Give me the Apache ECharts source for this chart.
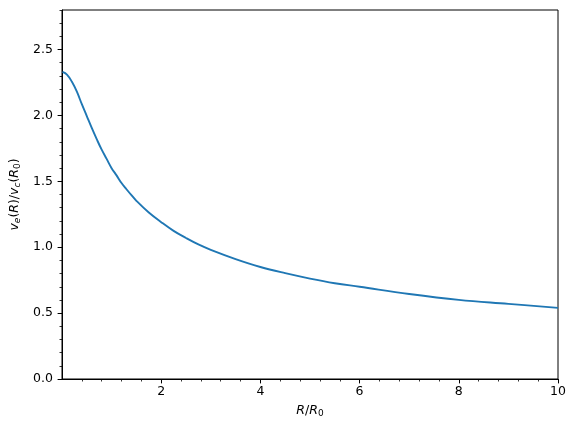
<!DOCTYPE html>
<html>
<head>
<meta charset="utf-8">
<script src="https://cdn.jsdelivr.net/npm/echarts@6/dist/echarts.min.js"></script>
<style>
  html, body { margin: 0; padding: 0; background: #fff; }
  #chart { width: 576px; height: 433px; }
</style>
</head>
<body>
<div id="chart"></div>
<script>
// R / R0 and the curve
const radius = [0.01, 0.1, 0.2, 0.3, 0.4, 0.5, 0.6, 0.7, 0.8, 0.9, 1.0, 1.1, 1.2, 1.3, 1.4, 1.5, 1.75, 2.0, 2.25, 2.5, 2.75, 3.0, 3.5, 4.0, 4.5, 5.0, 5.5, 6.0, 7.0, 8.0, 9.0, 10.0];
const escapeRatio = [2.33, 2.31, 2.255, 2.18, 2.085, 1.995, 1.905, 1.82, 1.74, 1.67, 1.60, 1.545, 1.487, 1.44, 1.395, 1.352, 1.263, 1.19, 1.124, 1.07, 1.021, 0.98, 0.91, 0.85, 0.803, 0.762, 0.727, 0.70, 0.645, 0.60, 0.57, 0.54];

const xTicks = [2, 4, 6, 8, 10];
const yTicks = [0, 0.5, 1.0, 1.5, 2.0, 2.5];

// minor tick positions
const xMinor = [];
for (let i = 1; i <= 25; i++) { if (i % 5 !== 0) xMinor.push(+(i * 0.4).toFixed(2)); }
const yMinor = [];
for (let i = 1; i <= 28; i++) { if (i % 5 !== 0) yMinor.push(+(i * 0.1).toFixed(2)); }

const font = "DejaVu Sans";
const mathRich = {
  i: { fontFamily: font, fontSize: 12.5, fontStyle: "italic", color: "#000" },
  n: { fontFamily: font, fontSize: 12.5, color: "#000" },
  s: { fontFamily: font, fontSize: 9, fontStyle: "italic", color: "#000", padding: [6, 0, 0, 0] },
  z: { fontFamily: font, fontSize: 9, color: "#000", padding: [6, 0, 0, 0] },
};

const chart = echarts.init(document.getElementById("chart"));

chart.setOption({
  animation: false,
  grid: {
    left: 62, right: 18, top: 10, bottom: 54,
    show: true, borderColor: "#000", borderWidth: 1,
  },
  xAxis: [
    {
      type: "value", min: 0, max: 10, position: "bottom",
      name: "{i|R}{n|/}{i|R}{z|0}",
      nameLocation: "middle", nameGap: 24,
      nameTextStyle: { rich: mathRich },
      axisLine: { show: true, lineStyle: { color: "#000", width: 1 } },
      axisTick: { show: true, customValues: xTicks, length: 4.4, lineStyle: { color: "#000", width: 1 } },
      axisLabel: { customValues: xTicks, margin: 6, fontFamily: font, fontSize: 12.5, color: "#000" },
      splitLine: { show: false },
    },
    {
      type: "value", min: 0, max: 10, position: "bottom",
      axisLine: { show: false },
      axisTick: { show: true, customValues: xMinor, length: 2.5, lineStyle: { color: "#000", width: 0.8 } },
      axisLabel: { show: false },
      splitLine: { show: false },
    },
  ],
  yAxis: [
    {
      type: "value", min: 0, max: 2.8, position: "left",
      name: "{i|v}{s|e}{n|(}{i|R}{n|)/}{i|v}{s|c}{n|(}{i|R}{z|0}{n|)}",
      nameLocation: "middle", nameGap: 38,
      nameTextStyle: { rich: mathRich },
      axisLine: { show: true, lineStyle: { color: "#000", width: 1 } },
      axisTick: { show: true, customValues: yTicks, length: 4.4, lineStyle: { color: "#000", width: 1 } },
      axisLabel: {
        customValues: yTicks, margin: 9, fontFamily: font, fontSize: 12.5, color: "#000",
        formatter: (v) => v.toFixed(1),
      },
      splitLine: { show: false },
    },
    {
      type: "value", min: 0, max: 2.8, position: "left",
      axisLine: { show: false },
      axisTick: { show: true, customValues: yMinor, length: 2.5, lineStyle: { color: "#000", width: 0.8 } },
      axisLabel: { show: false },
      splitLine: { show: false },
    },
  ],
  series: [
    {
      type: "line",
      xAxisIndex: 0, yAxisIndex: 0,
      data: radius.map((r, i) => [r, escapeRatio[i]]),
      smooth: 0.4,
      showSymbol: false,
      lineStyle: { color: "#1f77b4", width: 1.9 },
    },
  ],
});
</script>
</body>
</html>
